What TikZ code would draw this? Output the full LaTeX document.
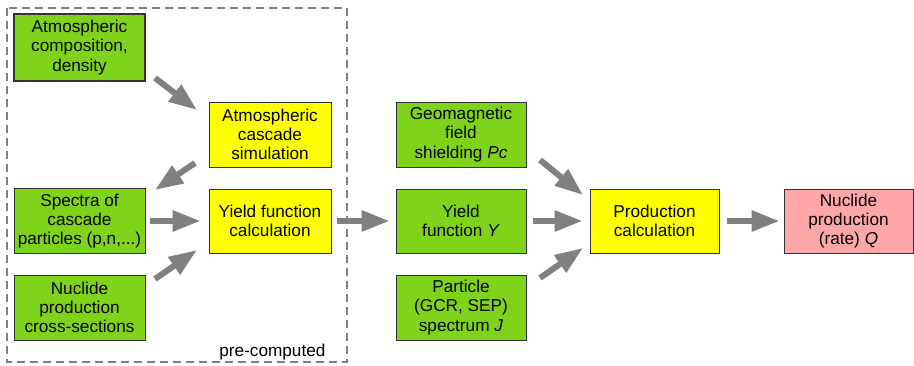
\documentclass[tikz,border=0pt]{standalone}
\usepackage{fontspec}
\setmainfont{Liberation Sans}
\usetikzlibrary{arrows.meta,calc}
\definecolor{boxgreen}{RGB}{127,211,27}
\definecolor{boxyellow}{RGB}{255,255,0}
\definecolor{boxpink}{RGB}{255,166,166}
\definecolor{boxline}{RGB}{51,51,51}
\definecolor{arrowgray}{RGB}{128,128,128}
\begin{document}
\begin{tikzpicture}[x=1pt,y=-1pt,
  box/.style={draw=boxline,line width=0.9pt,align=center,inner sep=0pt,
    font=\fontsize{17.2}{19.2}\selectfont},
  gbox/.style={box,fill=boxgreen},
  ybox/.style={box,fill=boxyellow},
  pbox/.style={box,fill=boxpink},
  bigarrow/.style={draw=arrowgray,line width=6pt,
    -{Triangle[length=28pt,width=20pt]}}]
\useasboundingbox (0,0) rectangle (914,366);
\draw[arrowgray,line width=1.2pt,dash pattern=on 8pt off 5pt] (7,8) rectangle (347,362);
\node[anchor=base east,font=\fontsize{17.2}{19.2}\selectfont] (pre) at (329,357) {pre-computed};

\node[gbox,line width=1.6pt,minimum width=131pt,minimum height=67pt] (comp) at (79.5,47.5) {Atmospheric\\composition,\\density};
\node[ybox,minimum width=122pt,minimum height=65pt] (casc) at (270,134.5) {Atmospheric\\cascade\\simulation};
\node[ybox,minimum width=122pt,minimum height=64pt] (yc) at (270,221) {Yield function\\calculation};
\node[gbox,minimum width=131pt,minimum height=65pt] (spec) at (79.5,221) {Spectra of\\cascade\\particles (p,n,...)};
\node[gbox,minimum width=131pt,minimum height=65pt] (cross) at (79.5,307.5) {Nuclide\\production\\cross-sections};
\node[gbox,minimum width=130pt,minimum height=65pt] (geo) at (461,134.5) {Geomagnetic\\field\\shielding \textit{Pc}};
\node[gbox,minimum width=130pt,minimum height=64pt] (yf) at (461,221) {Yield\\function \textit{Y}};
\node[gbox,minimum width=130pt,minimum height=65pt] (part) at (461,307.5) {Particle\\(GCR, SEP)\\spectrum \textit{J}};
\node[ybox,minimum width=129pt,minimum height=64pt] (prod) at (654.5,221) {Production\\calculation};
\node[pbox,minimum width=129pt,minimum height=64pt] (q) at (848.5,221) {Nuclide\\production\\(rate) \textit{Q}};

\coordinate (a1s) at (155,78);  \coordinate (a1e) at (197,110);
\coordinate (a2s) at (195,163); \coordinate (a2e) at (155,190);
\coordinate (a3s) at (155,279); \coordinate (a3e) at (197,250);
\coordinate (a4s) at (540,160); \coordinate (a4e) at (583,195);
\coordinate (a5s) at (540,278); \coordinate (a5e) at (583,248);

\draw[bigarrow] (a1s) -- (a1e);
\draw[bigarrow] (a2s) -- (a2e);
\draw[bigarrow] (a3s) -- (a3e);
\draw[bigarrow] (a4s) -- (a4e);
\draw[bigarrow] (a5s) -- (a5e);
\draw[bigarrow,shorten <=5pt,shorten >=8pt] (spec.east) -- (yc.west);
\draw[bigarrow,shorten <=6pt,shorten >=6pt] (yc.east) -- (yf.west);
\draw[bigarrow,shorten <=7pt,shorten >=7pt] (yf.east) -- (prod.west);
\draw[bigarrow,shorten <=8pt,shorten >=4pt] (prod.east) -- (q.west);
\end{tikzpicture}
\end{document}
